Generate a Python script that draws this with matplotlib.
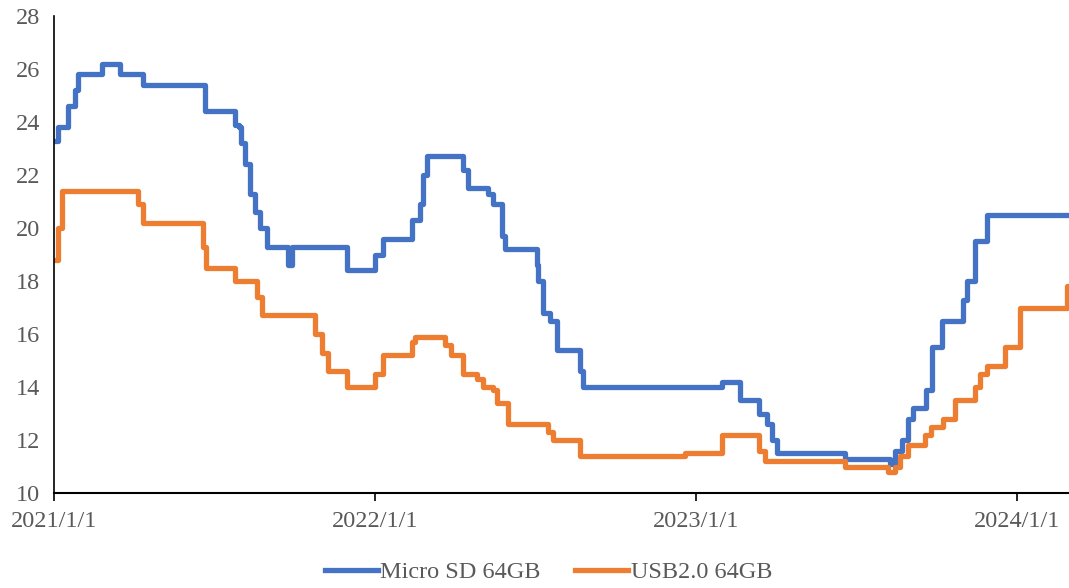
import matplotlib
matplotlib.use('Agg')
import matplotlib.pyplot as plt
import pandas as pd

# Micro SD 64GB
sd_dates = ['2021-01-01', '2021-01-06', '2021-01-17', '2021-01-25', '2021-01-28',
            '2021-02-25', '2021-03-17', '2021-04-12', '2021-06-22', '2021-07-26',
            '2021-07-30', '2021-08-02', '2021-08-06', '2021-08-12', '2021-08-18',
            '2021-08-23', '2021-08-31', '2021-09-24', '2021-09-29', '2021-11-30',
            '2022-01-01', '2022-01-10', '2022-02-12', '2022-02-21', '2022-02-25',
            '2022-03-01', '2022-04-11', '2022-04-17', '2022-05-09', '2022-05-15',
            '2022-05-25', '2022-05-29', '2022-07-04', '2022-07-05', '2022-07-11',
            '2022-07-19', '2022-07-27', '2022-08-22', '2022-08-25', '2023-01-31',
            '2023-02-20', '2023-03-14', '2023-03-23', '2023-03-28', '2023-04-03',
            '2023-06-19', '2023-08-10', '2023-08-15', '2023-08-23', '2023-08-30',
            '2023-09-05', '2023-09-19', '2023-09-26', '2023-10-08', '2023-10-31',
            '2023-11-05', '2023-11-14', '2023-11-28', '2024-02-29']
sd_vals = [23.3, 23.8, 24.6, 25.2, 25.8,
           26.2, 25.8, 25.4, 24.4, 23.9,
           23.8, 23.2, 22.4, 21.3, 20.6,
           20.0, 19.3, 18.6, 19.3, 18.4,
           19.0, 19.6, 20.3, 20.9, 22.0,
           22.7, 22.2, 21.5, 21.3, 20.9,
           19.7, 19.2, 18.6, 18.0, 16.8,
           16.5, 15.4, 14.6, 14.0, 14.2,
           13.5, 13.0, 12.6, 12.0, 11.5,
           11.3, 11.1, 11.6, 12.0, 12.8,
           13.2, 13.9, 15.5, 16.5, 17.3,
           18.0, 19.5, 20.5, 20.5]

# USB2.0 64GB
usb_dates = ['2021-01-01', '2021-01-06', '2021-01-10', '2021-04-07', '2021-04-12',
             '2021-06-19', '2021-06-23', '2021-07-26', '2021-08-20', '2021-08-25',
             '2021-10-25', '2021-11-02', '2021-11-09', '2021-11-30', '2022-01-01',
             '2022-01-10', '2022-02-12', '2022-02-15', '2022-03-22', '2022-03-28',
             '2022-04-11', '2022-04-27', '2022-05-04', '2022-05-15', '2022-05-20',
             '2022-06-01', '2022-07-17', '2022-07-22', '2022-08-22', '2022-12-19',
             '2023-01-31', '2023-03-14', '2023-03-20', '2023-06-19', '2023-08-07',
             '2023-08-15', '2023-08-21', '2023-08-30', '2023-09-18', '2023-09-25',
             '2023-10-09', '2023-10-22', '2023-11-14', '2023-11-20', '2023-11-28',
             '2023-12-18', '2024-01-04', '2024-02-27', '2024-02-29']
usb_vals = [18.8, 20.0, 21.4, 20.9, 20.2,
            19.3, 18.5, 18.0, 17.4, 16.7,
            16.0, 15.3, 14.6, 14.0, 14.5,
            15.2, 15.7, 15.9, 15.6, 15.2,
            14.5, 14.3, 14.0, 13.9, 13.4,
            12.6, 12.3, 12.0, 11.4, 11.5,
            12.2, 11.6, 11.2, 11.0, 10.8,
            11.0, 11.4, 11.8, 12.2, 12.5,
            12.8, 13.5, 14.0, 14.5, 14.8,
            15.5, 17.0, 17.8, 17.8]

year_ticks = ['2021-01-01', '2022-01-01', '2023-01-01', '2024-01-01']
year_labels = ['2021/1/1', '2022/1/1', '2023/1/1', '2024/1/1']

plt.rcParams['font.family'] = ['Liberation Serif', 'DejaVu Serif']
grey = '#595959'

fig = plt.figure(figsize=(10.69, 5.88), dpi=100)
ax = fig.add_axes([54 / 1069, 1 - 493 / 588, 1 - 54 / 1069, 477 / 588])

ax.plot(pd.to_datetime(sd_dates), sd_vals, drawstyle='steps-post',
        color='#4472C4', lw=3.8, label='Micro SD 64GB', solid_joinstyle='round')
ax.plot(pd.to_datetime(usb_dates), usb_vals, drawstyle='steps-post',
        color='#ED7D31', lw=3.8, label='USB2.0 64GB', solid_joinstyle='round')

ax.set_ylim(10, 28)
ax.set_yticks(range(10, 29, 2))
ax.set_xlim(pd.Timestamp('2021-01-01'), pd.Timestamp('2024-02-29'))
ax.set_xticks(pd.to_datetime(year_ticks))
ax.set_xticklabels(year_labels)

for s in ['top', 'right']:
    ax.spines[s].set_visible(False)
ax.spines['left'].set_linewidth(1.2)
ax.spines['bottom'].set_linewidth(1.5)
ax.tick_params(axis='y', length=0, pad=10, labelsize=17.5, labelcolor=grey)
ax.tick_params(axis='x', length=6, width=1.2, direction='out', pad=7,
               labelsize=17.5, labelcolor=grey)

leg = ax.legend(loc='center', bbox_to_anchor=(0.487, -0.166), ncol=2,
                frameon=False, fontsize=17.5, handlelength=2.2, handletextpad=0.1,
                columnspacing=1.4)
for t in leg.get_texts():
    t.set_color(grey)

fig.savefig('out.png', dpi=100)
